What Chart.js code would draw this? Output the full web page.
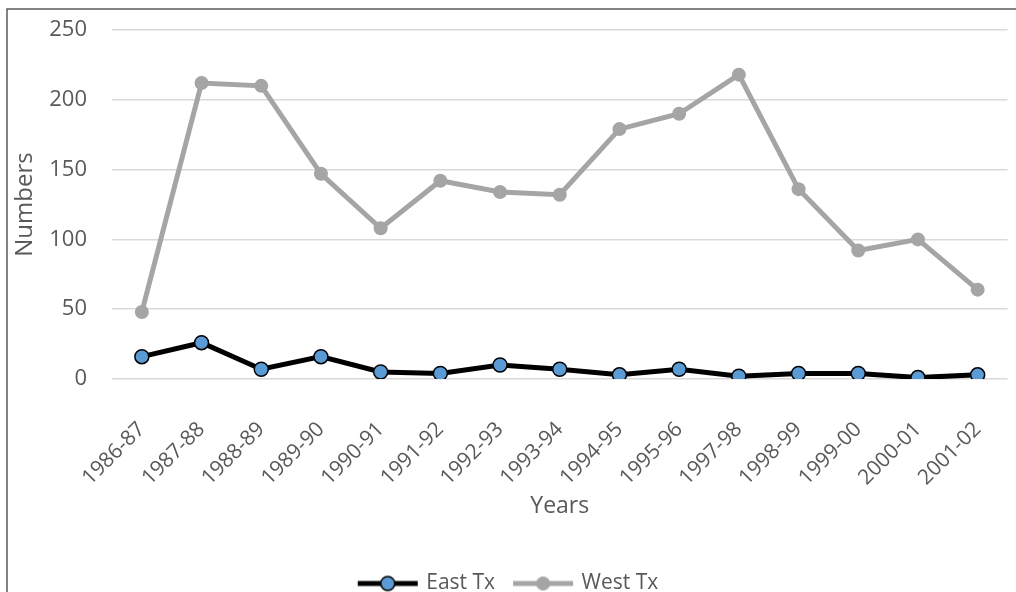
<!DOCTYPE html>
<html>
<head>
<meta charset="utf-8">
<script src="https://cdn.jsdelivr.net/npm/chart.js@4.4.1/dist/chart.umd.min.js"></script>
<style>
  html, body { margin: 0; padding: 0; overflow: hidden; background: #fff; }
  #wrap { width: 1016px; height: 592px; overflow: hidden; }
</style>
</head>
<body>
<div id="wrap"><canvas id="chart" width="1016" height="604"></canvas></div>
<script>
const years = ['1986-87', '1987-88', '1988-89', '1989-90', '1990-91', '1991-92', '1992-93',
  '1993-94', '1994-95', '1995-96', '1997-98', '1998-99', '1999-00', '2000-01', '2001-02'];
const eastTx = [16, 26, 7, 16, 5, 4, 10, 7, 3, 7, 2, 4, 4, 1, 3];
const westTx = [48, 212, 210, 147, 108, 142, 134, 132, 179, 190, 218, 136, 92, 100, 64];
const yTicks = [0, 50, 100, 150, 200, 250];

const textColor = '#595959';
const fontFamily = '"Open Sans", sans-serif';

// legend sample: short line with the marker in the middle
function legendSample(lineColor, fill, border) {
  const c = document.createElement('canvas');
  c.width = 62;
  c.height = 18;
  const g = c.getContext('2d');
  g.strokeStyle = lineColor;
  g.lineWidth = 5;
  g.beginPath();
  g.moveTo(1, 9);
  g.lineTo(61, 9);
  g.stroke();
  g.beginPath();
  g.arc(31, 9, 7, 0, Math.PI * 2);
  g.fillStyle = fill;
  g.fill();
  if (border) {
    g.lineWidth = 1.5;
    g.strokeStyle = border;
    g.stroke();
  }
  return c;
}

const frame = {
  id: 'frame',
  beforeDraw(chart) {
    const ctx = chart.ctx;
    ctx.save();
    ctx.fillStyle = '#fff';
    ctx.fillRect(0, 0, chart.width, chart.height);
    ctx.strokeStyle = '#5a5a5a';
    ctx.lineWidth = 1.5;
    ctx.beginPath();
    ctx.moveTo(7, chart.height);
    ctx.lineTo(7, 9);
    ctx.lineTo(chart.width, 9);
    ctx.stroke();
    ctx.restore();
  }
};

new Chart(document.getElementById('chart'), {
  type: 'line',
  data: {
    labels: years,
    datasets: [
      {
        label: 'East Tx',
        data: eastTx,
        borderColor: '#000000',
        borderWidth: 5,
        pointRadius: 7,
        pointBackgroundColor: '#5b9bd5',
        pointBorderColor: '#000000',
        pointBorderWidth: 1.5,
        tension: 0,
        sample: legendSample('#000000', '#5b9bd5', '#000000')
      },
      {
        label: 'West Tx',
        data: westTx,
        borderColor: '#a5a5a5',
        borderWidth: 5,
        pointRadius: 7,
        pointBackgroundColor: '#a5a5a5',
        pointBorderColor: '#a5a5a5',
        pointBorderWidth: 0,
        tension: 0,
        sample: legendSample('#a5a5a5', '#a5a5a5', null)
      }
    ]
  },
  options: {
    responsive: false,
    animation: false,
    devicePixelRatio: 1,
    layout: { padding: { top: 30, right: -2, left: 0, bottom: 0 } },
    plugins: {
      tooltip: { enabled: false },
      legend: {
        position: 'bottom',
        labels: {
          usePointStyle: true,
          pointStyleWidth: 56,
          padding: 20,
          color: textColor,
          font: { family: fontFamily, size: 21 },
          generateLabels(chart) {
            return chart.data.datasets.map((ds, i) => ({
              text: ds.label,
              pointStyle: ds.sample,
              fillStyle: ds.borderColor,
              strokeStyle: ds.borderColor,
              lineWidth: 0,
              fontColor: textColor,
              datasetIndex: i,
              hidden: false
            }));
          }
        }
      }
    },
    scales: {
      x: {
        offset: true,
        grid: { display: false, drawTicks: false },
        border: { display: false },
        ticks: {
          color: textColor,
          font: { family: fontFamily, size: 21 },
          maxRotation: 45,
          minRotation: 45,
          padding: 38,
          autoSkip: false
        },
        title: {
          display: true,
          text: 'Years',
          color: textColor,
          font: { family: fontFamily, size: 23 },
          padding: { top: 0, bottom: 33 }
        },
        afterFit(scale) {
          scale.height = 174;
          scale.paddingLeft = 0;
          scale.paddingRight = 0;
        }
      },
      y: {
        min: 0,
        max: 250,
        afterBuildTicks(scale) { scale.ticks = yTicks.map(v => ({ value: v })); },
        grid: { color: '#d9d9d9', lineWidth: 1.5, drawTicks: false },
        border: { display: false },
        ticks: {
          color: textColor,
          font: { family: fontFamily, size: 22 },
          padding: 25
        },
        title: {
          display: true,
          text: 'Numbers',
          color: textColor,
          font: { family: fontFamily, size: 24 },
          padding: { top: 11, bottom: 0 }
        },
        afterFit(scale) {
          scale.width = 112;
          scale.paddingTop = 0;
          scale.paddingBottom = 0;
        }
      }
    }
  },
  plugins: [frame]
});
</script>
</body>
</html>
